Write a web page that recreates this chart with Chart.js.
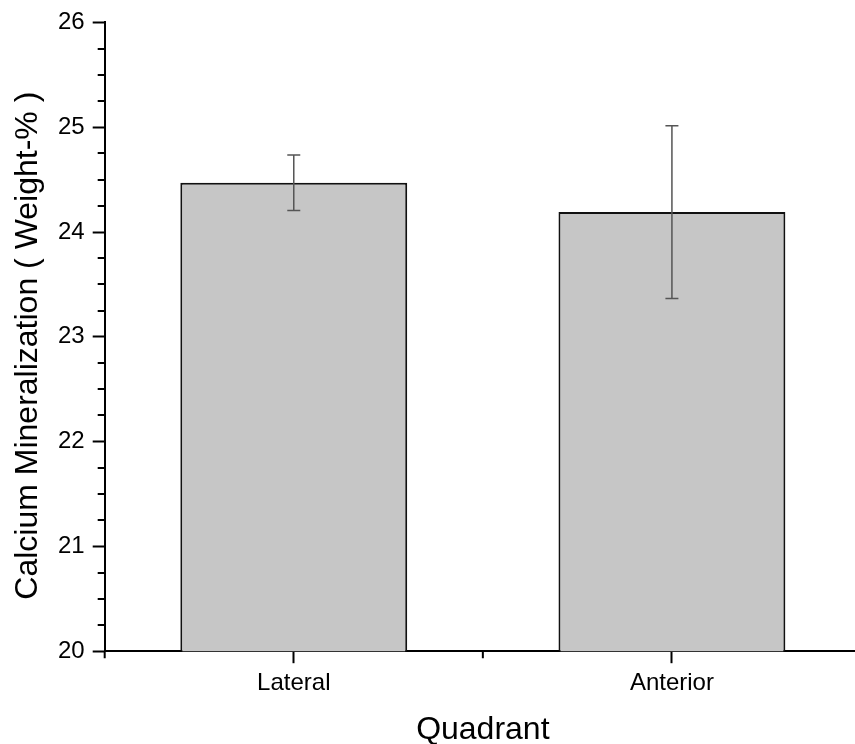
<!DOCTYPE html>
<html>
<head>
<meta charset="utf-8">
<script src="https://cdn.jsdelivr.net/npm/chart.js@4/dist/chart.umd.min.js"></script>
<style>
  html, body { margin: 0; padding: 0; background: #fff; overflow: hidden; }
  #wrap { width: 861px; height: 744px; }
</style>
</head>
<body>
<div id="wrap"><canvas id="chart"></canvas></div>
<script>
var categories = ['Lateral', 'Anterior'];
var means = [24.47, 24.19];
var errors = [0.265, 0.825];
var yTicks = [20, 21, 22, 23, 24, 25, 26];

var FONT = '"Liberation Sans", Arial, sans-serif';

// error bars + minor ticks, drawn after the datasets
var extras = {
    id: 'extras',
    afterDatasetsDraw: function (chart) {
        var c = chart.ctx;
        var x = chart.scales.x, y = chart.scales.y;
        c.save();
        c.strokeStyle = '#555';
        c.lineWidth = 1.5;
        for (var i = 0; i < means.length; i++) {
            var px = x.getPixelForValue(i);
            var top = y.getPixelForValue(means[i] + errors[i]);
            var bot = y.getPixelForValue(means[i] - errors[i]);
            c.beginPath();
            c.moveTo(px, top); c.lineTo(px, bot);
            c.moveTo(px - 6.5, top); c.lineTo(px + 6.5, top);
            c.moveTo(px - 6.5, bot); c.lineTo(px + 6.5, bot);
            c.stroke();
        }
        c.restore();
    },
    afterDraw: function (chart) {
        var c = chart.ctx;
        var x = chart.scales.x, y = chart.scales.y;
        var area = chart.chartArea;
        c.save();
        c.strokeStyle = '#000';
        c.lineWidth = 2;
        c.beginPath();
        // y minor ticks
        for (var v = yTicks[0]; v < yTicks[yTicks.length - 1]; v += 0.25) {
            if (Math.abs(v - Math.round(v)) < 1e-6) continue;
            var py = Math.round(y.getPixelForValue(v));
            c.moveTo(area.left - 7, py); c.lineTo(area.left, py);
        }
        // x minor ticks, between categories
        var step = x.getPixelForValue(1) - x.getPixelForValue(0);
        for (var i = 0; i <= categories.length; i++) {
            var px = x.getPixelForValue(0) + (i - 0.5) * step;
            c.moveTo(px, area.bottom); c.lineTo(px, area.bottom + 7);
        }
        c.stroke();
        c.restore();
    }
};

var ctx = document.getElementById('chart').getContext('2d');

var chart = new Chart(ctx, {
    type: 'bar',
    data: {
        labels: categories,
        datasets: [{
            data: means,
            backgroundColor: '#c6c6c6',
            borderColor: '#111',
            borderWidth: 2,
            borderSkipped: false,
            categoryPercentage: 1,
            barPercentage: 0.6
        }]
    },
    options: {
        responsive: true,
        maintainAspectRatio: false,
        animation: false,
        layout: { padding: { top: 10, left: 12, right: 0, bottom: -2 } },
        plugins: {
            legend: { display: false },
            tooltip: { enabled: false }
        },
        scales: {
            x: {
                offset: true,
                grid: {
                    offset: false,
                    drawOnChartArea: false,
                    drawTicks: true,
                    tickLength: 12,
                    tickWidth: 2,
                    tickColor: '#000'
                },
                border: { color: '#000', width: 2 },
                ticks: {
                    color: '#000',
                    padding: 6,
                    font: { family: FONT, size: 24 }
                },
                title: {
                    display: true,
                    text: 'Quadrant',
                    color: '#000',
                    padding: { top: 10, bottom: 0 },
                    font: { family: FONT, size: 32, lineHeight: 1 }
                }
            },
            y: {
                min: 20,
                max: 26,
                grid: {
                    drawOnChartArea: false,
                    drawTicks: true,
                    tickLength: 12,
                    tickWidth: 2,
                    tickColor: function (c) {
                        return (c.tick && yTicks.indexOf(c.tick.value) >= 0) ? '#000' : 'rgba(0,0,0,0)';
                    }
                },
                border: { color: '#000', width: 2 },
                ticks: {
                    stepSize: 0.25,
                    autoSkip: false,
                    color: '#000',
                    padding: 8,
                    font: { family: FONT, size: 24 },
                    callback: function (v) {
                        return yTicks.indexOf(v) >= 0 ? String(v) : '';
                    }
                },
                title: {
                    display: true,
                    // trailing spaces nudge the rotated title down a little
                    text: 'Calcium Mineralization ( Weight-% )  ',
                    color: '#000',
                    padding: { top: 0, bottom: 6 },
                    font: { family: FONT, size: 32, lineHeight: 1 }
                }
            }
        }
    },
    plugins: [extras]
});
</script>
</body>
</html>
